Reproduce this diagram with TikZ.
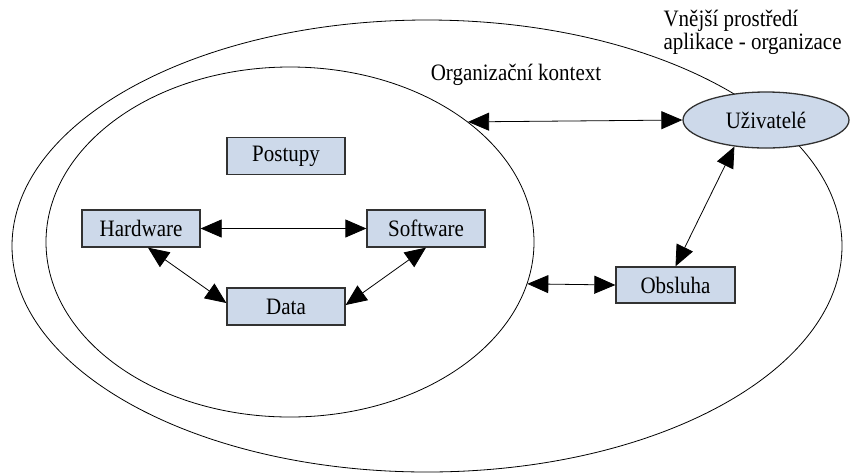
\documentclass[tikz,border=0pt]{standalone}
\usepackage{fontspec}
\setmainfont{Liberation Serif}
\usetikzlibrary{arrows.meta,shapes.geometric}
\definecolor{boxfill}{RGB}{205,217,234}
\definecolor{boxline}{RGB}{50,50,50}
\newcommand\talltext[1]{\scalebox{1}[1.12]{#1}}
\begin{document}
\begin{tikzpicture}[x=1pt,y=-1pt,
  every node/.style={font=\fontsize{21}{24}\selectfont},
  box/.style={draw=boxline, line width=1.3pt, fill=boxfill, minimum width=118pt, minimum height=37pt, inner sep=0pt},
  ring/.style={draw, ellipse, line width=0.8pt, inner sep=0pt},
  link/.style={line width=0.8pt, {Triangle[length=21pt,width=18pt]}-{Triangle[length=21pt,width=18pt]}}
]
\useasboundingbox (0,0) rectangle (851,475);
\node[ring, minimum width=830pt, minimum height=452pt] (env) at (427,246) {};
\node[ring, minimum width=488pt, minimum height=350pt] (ctx) at (290,242) {};
\node[box] (post) at (286,156) {\talltext{Postupy}};
\node[box] (hw) at (141,228.5) {\talltext{Hardware}};
\node[box] (sw) at (426,228.5) {\talltext{Software}};
\node[box] (data) at (286,306.5) {\talltext{Data}};
\node[box, minimum width=119pt, minimum height=36pt] (obs) at (675.5,285) {\talltext{Obsluha}};
\node[draw=boxline, line width=1.3pt, fill=boxfill, ellipse, minimum width=166pt, minimum height=56pt, inner sep=0pt] (uz) at (766,120) {\talltext{Uživatelé}};
\node[anchor=west, align=left, font=\fontsize{21}{23}\selectfont] (ext) at (660,32) {\talltext{Vnější prostředí}\\\talltext{aplikace - organizace}};
\node (ctxlabel) at (516,75) {\talltext{Organizační kontext}};
\draw[link] (hw.east) -- (sw.west);
\draw[link] ([xshift=7pt]hw.south) -- ([yshift=3.5pt]data.west);
\draw[link] (sw.south) -- ([yshift=1.5pt]data.east);
\draw[link] (ctx.34.9) -- (uz.west);
\draw[link] (ctx.-10) -- (obs.west);
\draw[link] (uz.220) -- (obs.north);
\end{tikzpicture}
\end{document}
